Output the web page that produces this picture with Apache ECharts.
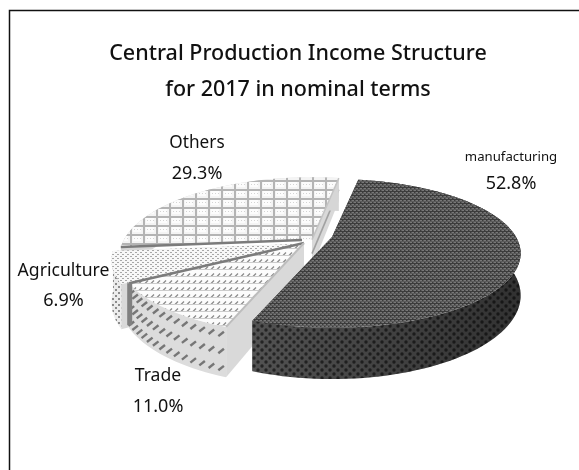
<!DOCTYPE html>
<html><head><meta charset="utf-8">
<style>html,body{margin:0;padding:0;background:#fff}#c{width:579px;height:470px}</style>
<script src="https://cdn.jsdelivr.net/npm/echarts@6/dist/echarts.min.js"></script>
</head><body><div id="c"></div>
<script>
const categories = ['manufacturing', 'Trade', 'Agriculture', 'Others'];
const shares = [52.8, 11.0, 6.9, 29.3];
const titleLines = ['Central Production Income Structure', 'for 2017 in nominal terms'];

const START = 10, PERSP = 0.22, DEPTH = 40;
const FONT = '"Noto Sans"';
const centers = [[332, 237], [304, 243], [296, 244], [312, 239.6]];
const radiiX = [184, 180, 180, 188];
const radiiY = [70.8, 70.8, 70.8, 76];
const labelAt = [[511, 157, 13.2, 27, 18], [158, 376, 17.6, 31, 18], [63.5, 271, 17.6, 30, 18], [197, 143, 17.2, 31, 18]];

function tile(w, h, bg, draw) {
  const c = document.createElement('canvas');
  c.width = w; c.height = h;
  const g = c.getContext('2d');
  g.fillStyle = bg; g.fillRect(0, 0, w, h);
  draw(g);
  return { image: c, repeat: 'repeat' };
}
const pat = {
  mfgTop: tile(4, 4, '#5a5a5a', g => {
    g.fillStyle = '#787878'; g.fillRect(0, 0, 2, 1); g.fillRect(2, 2, 2, 1);
    g.fillStyle = '#3c3c3c'; g.fillRect(2, 0, 1, 1); g.fillRect(0, 2, 1, 1); g.fillRect(0, 3, 4, 1);
  }),
  mfgWall: tile(8, 8, '#525252', g => {
    g.fillStyle = '#242424';
    g.beginPath(); g.arc(2, 2, 1.7, 0, 7); g.fill();
    g.beginPath(); g.arc(6, 6, 1.7, 0, 7); g.fill();
  }),
  others: tile(13, 9, '#f4f4f4', g => {
    g.fillStyle = '#fcfcfc'; g.fillRect(3, 2, 8, 5);
    g.fillStyle = '#b4b4b4'; g.fillRect(0, 0, 13, 2); g.fillRect(0, 0, 2, 9);
    g.fillStyle = '#d4d4d4'; for (let x = 4; x < 13; x += 3) g.fillRect(x, 4, 1, 1);
  }),
  agriTop: tile(5, 4, '#f8f8f8', g => {
    g.fillStyle = '#a8a8a8'; g.fillRect(0, 0, 2, 1); g.fillRect(2, 2, 2, 1);
  }),
  agriWall: tile(6, 6, '#ececec', g => {
    g.fillStyle = '#8c8c8c'; g.fillRect(1, 1, 2, 2); g.fillRect(4, 4, 2, 2);
  }),
  tradeTop: tile(6, 7, '#fcfcfc', g => {
    g.strokeStyle = '#8a8a8a'; g.lineWidth = 1.3;
    g.beginPath(); g.moveTo(1, 3.5); g.lineTo(4, 0.5); g.stroke();
    g.fillStyle = '#cccccc'; g.fillRect(0, 3, 6, 1);
  })
};
const topFill = [pat.mfgTop, pat.tradeTop, pat.agriTop, pat.others];
const wallFill = [pat.mfgWall, '#dcdcdc', pat.agriWall, '#d6d6d6'];

function P(i, deg, d) {
  const c = centers[i], t = deg * Math.PI / 180, u = Math.sin(t), v = -Math.cos(t), s = 1 / (1 - PERSP * v);
  return [c[0] + radiiX[i] * u * s, c[1] + radiiY[i] * v * s + d * s];
}
function arc(i, a0, a1, d) {
  const out = [], n = Math.max(2, Math.ceil(Math.abs(a1 - a0) / 2));
  for (let k = 0; k <= n; k++) out.push(P(i, a0 + (a1 - a0) * k / n, d));
  return out;
}
const poly = (points, fill) => ({ type: 'polygon', shape: { points }, style: { fill } });
const line = (a, b, stroke, lineWidth) => ({ type: 'line', shape: { x1: a[0], y1: a[1], x2: b[0], y2: b[1] }, style: { stroke, lineWidth, lineCap: 'butt' } });

const total = shares.reduce((a, b) => a + b, 0);
const spans = [];
shares.reduce((acc, v) => { const e = acc + v / total * 360; spans.push([acc, e]); return e; }, START);

function renderItem(i, api) {
  const [a0, a1] = spans[i], c = centers[i], kids = [];
  const top = arc(i, a0, a1, 0);
  const bot = arc(i, a0, a1, DEPTH);
  const app = [c[0], c[1] + DEPTH * 1.05];
  const cutFill = i === 0 ? pat.mfgWall : '#d9d9d9';
  if (i === 3) {
    const d = 28, rim = P(i, a1, 0), rimB = P(i, a1, d), apB = [c[0], c[1] + d];
    kids.push(poly([c, rim, rimB, apB], cutFill));
    kids.push(line(P(i, a1, d * 0.5), [c[0], c[1] + d * 0.5], '#a2a2a2', 1.6));
  } else {
    kids.push(poly([c, P(i, a1, 0), P(i, a1, DEPTH), app], cutFill));
    kids.push(poly([c, P(i, a0, 0), P(i, a0, DEPTH), app], cutFill));
  }
  kids.push(poly(top.concat(bot.slice().reverse()), wallFill[i]));
  if (i === 0) {
    kids.push(poly(top.concat(bot.slice().reverse()), {
      type: 'linear', x: 0, y: 0, x2: 1, y2: 0,
      colorStops: [{ offset: 0, color: 'rgba(0,0,0,0)' }, { offset: 1, color: 'rgba(0,0,0,0.4)' }]
    }));
  }
  if (i === 1) {
    [0.16, 0.5, 0.84].forEach(f => {
      for (let a = a0 + 1.4; a < a1 - 0.3; a += 2.8) {
        const p = P(i, a, DEPTH * f);
        kids.push(line([p[0] - 2.8, p[1] + 2.2], [p[0] + 2.8, p[1] - 2.2], '#767676', 2.4));
      }
    });
  }
  kids.push(poly([c].concat(top), topFill[i]));
  if (i === 1) {
    kids.push(line(P(i, a1, 0), c, '#7b7b7b', 2.4));
    const p = P(i, a1, 0);
    kids.push(line([p[0] + 0.5, p[1]], [p[0] + 0.5, p[1] + DEPTH * 1.05], '#808080', 5));
    kids.push(line(P(i, a0, 0), c, '#bdbdbd', 2));
  }
  if (i === 3) {
    kids.push(line(P(i, a0, 0), [c[0] - 10, c[1] + 0.4], '#7b7b7b', 2.6));
    kids.push(line(P(i, a1, 0), c, '#c4c4c4', 1.5));
  }
  const L = labelAt[i];
  kids.push({ type: 'text', z2: 10, style: { text: categories[i], x: L[0], y: L[1], align: 'center', verticalAlign: 'middle', font: `${L[2]}px ${FONT}`, fill: '#111' } });
  kids.push({ type: 'text', z2: 10, style: { text: api.value(0).toFixed(1) + '%', x: L[0], y: L[1] + L[3], align: 'center', verticalAlign: 'middle', font: `${L[4]}px ${FONT}`, fill: '#111' } });
  return { type: 'group', children: kids };
}

// Paint back to front: Others, Agriculture, Trade, manufacturing
const order = [3, 2, 1, 0];
const chart = echarts.init(document.getElementById('c'), null, { renderer: 'canvas' });
chart.setOption({
  animation: false,
  backgroundColor: '#fff',
  title: {
    text: titleLines.join('\n'), left: 293, top: 31, textAlign: 'center',
    textStyle: { fontFamily: FONT, fontSize: 21.5, fontWeight: 500, color: '#111', lineHeight: 36 }
  },
  graphic: [{ type: 'polyline', shape: { points: [[9.5, 470], [9.5, 10.5], [579, 10.5]] }, style: { stroke: '#111', lineWidth: 1.5, fill: null } }],
  series: order.map(k => ({
    type: 'custom', coordinateSystem: 'none', silent: true, clip: false,
    renderItem: (p, api) => renderItem(k, api),
    data: [[shares[k]]]
  }))
});
</script></body></html>
